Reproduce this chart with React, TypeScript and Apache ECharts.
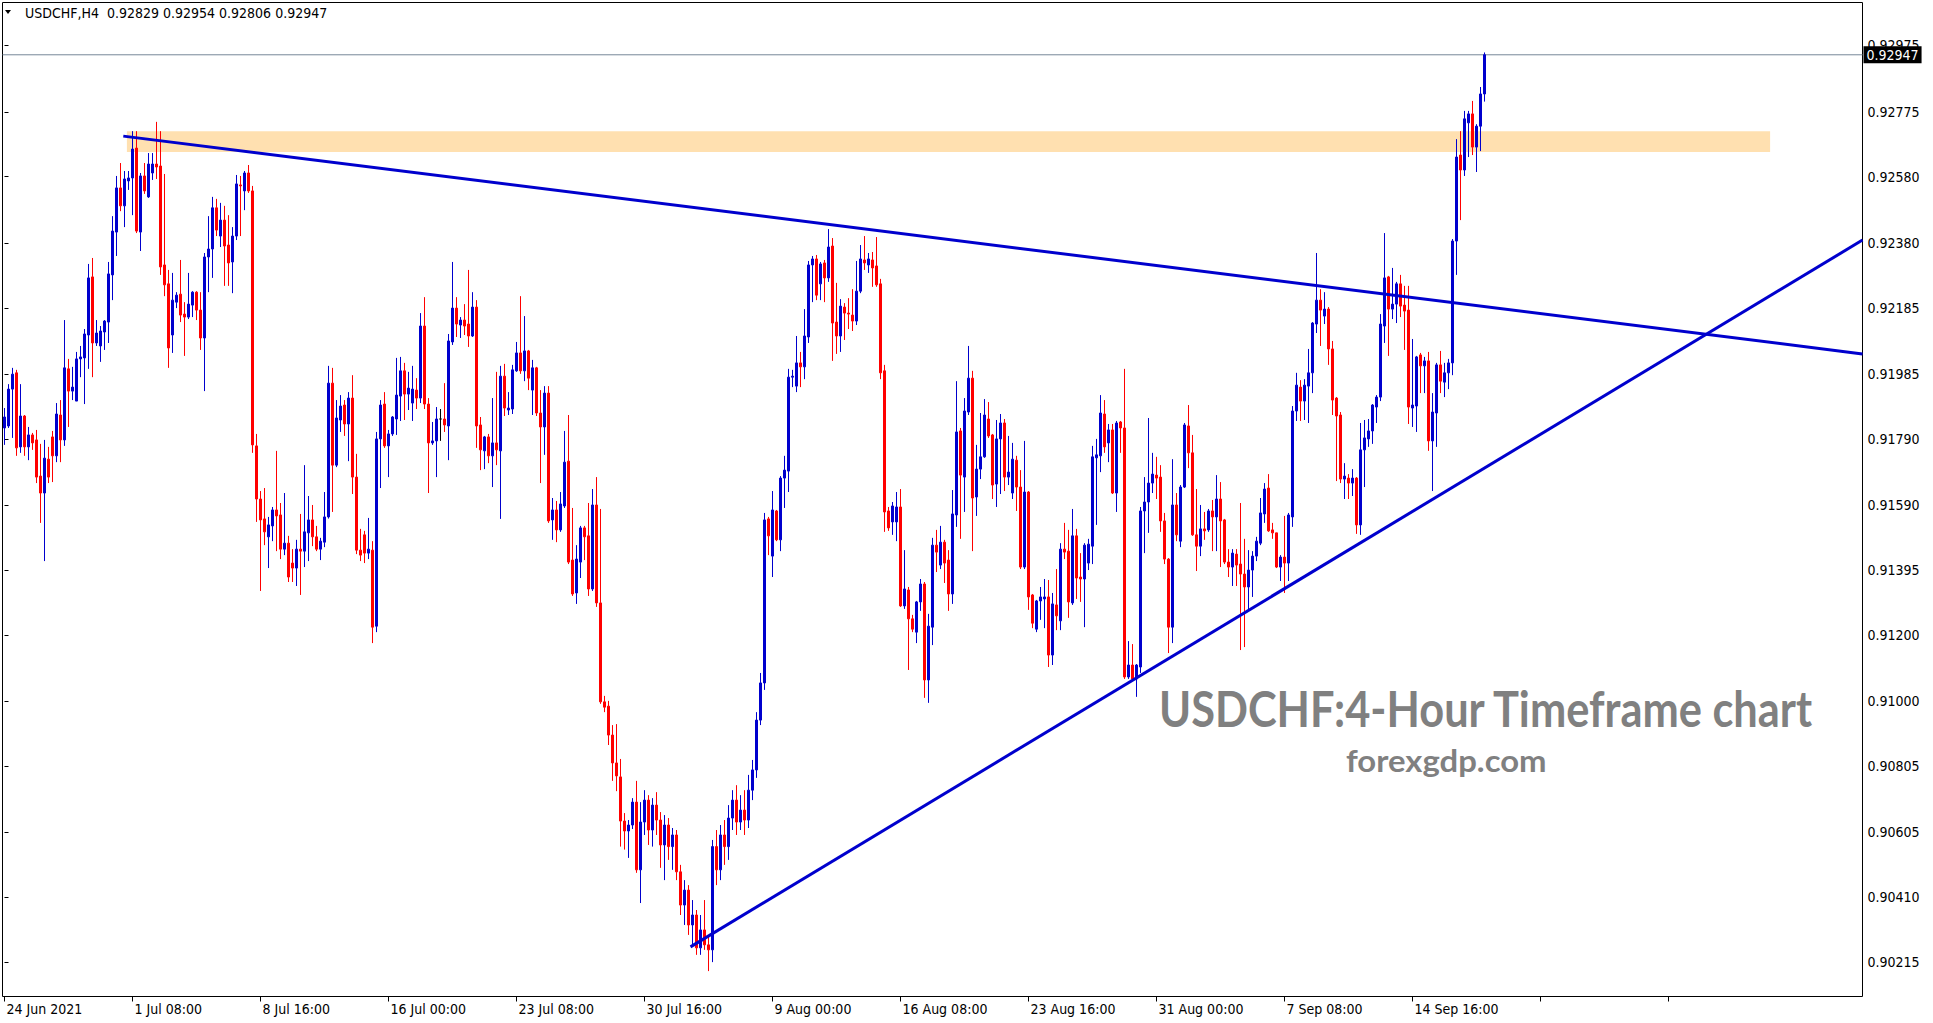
import React, { useEffect, useRef } from 'react';
import * as echarts from 'echarts';

// Each bar: [open, high, low, close]  (USDCHF, H4)
const juneBars: number[][] = [
  [0.91823, 0.91883, 0.91772, 0.91856], [0.91829, 0.91955, 0.91823, 0.91940], [0.91940, 0.92004, 0.91793, 0.91985],
  [0.91989, 0.91998, 0.91739, 0.91763], [0.91766, 0.91955, 0.91748, 0.91859], [0.91859, 0.91862, 0.91739, 0.91766],
  [0.91766, 0.91826, 0.91726, 0.91802], [0.91802, 0.91808, 0.91757, 0.91778], [0.91787, 0.91817, 0.91657, 0.91675],
  [0.91678, 0.91775, 0.91537, 0.91627], [0.91627, 0.91787, 0.91422, 0.91732], [0.91729, 0.91766, 0.91657, 0.91675],
  [0.91796, 0.91814, 0.91660, 0.91739], [0.91739, 0.91898, 0.91720, 0.91865], [0.91862, 0.91907, 0.91720, 0.91787],
  [0.91787, 0.92148, 0.91769, 0.92004], [0.92001, 0.92031, 0.91826, 0.91934], [0.91934, 0.92007, 0.91907, 0.91946],
  [0.91904, 0.92052, 0.91904, 0.92031], [0.92031, 0.92070, 0.91976, 0.92037], [0.92034, 0.92121, 0.91895, 0.92106],
  [0.92103, 0.92317, 0.92001, 0.92275], [0.92278, 0.92335, 0.91976, 0.92079], [0.92079, 0.92148, 0.92070, 0.92109],
  [0.92070, 0.92130, 0.92022, 0.92115], [0.92112, 0.92148, 0.92058, 0.92145], [0.92142, 0.92323, 0.92079, 0.92287],
  [0.92284, 0.92461, 0.92208, 0.92416], [0.92413, 0.92582, 0.92341, 0.92546], [0.92546, 0.92621, 0.92476, 0.92492],
];

const julyBars: number[][] = [
  [0.92492, 0.92597, 0.92428, 0.92573], [0.92567, 0.92597, 0.92540, 0.92576], [0.92576, 0.92717, 0.92464, 0.92663],
  [0.92666, 0.92717, 0.92410, 0.92416], [0.92413, 0.92591, 0.92356, 0.92582], [0.92582, 0.92621, 0.92528, 0.92537],
  [0.92519, 0.92651, 0.92516, 0.92618], [0.92591, 0.92651, 0.92570, 0.92618], [0.92618, 0.92745, 0.92573, 0.92609],
  [0.92612, 0.92717, 0.92284, 0.92308], [0.92314, 0.92588, 0.92220, 0.92254], [0.92257, 0.92299, 0.92004, 0.92064],
  [0.92103, 0.92290, 0.92049, 0.92208], [0.92202, 0.92232, 0.92184, 0.92223], [0.92226, 0.92329, 0.92142, 0.92163],
  [0.92166, 0.92202, 0.92040, 0.92157], [0.92157, 0.92290, 0.92151, 0.92196], [0.92193, 0.92235, 0.92157, 0.92232],
  [0.92232, 0.92235, 0.92148, 0.92178], [0.92178, 0.92232, 0.92058, 0.92094], [0.92094, 0.92350, 0.91934, 0.92338],
  [0.92338, 0.92461, 0.92232, 0.92362], [0.92362, 0.92519, 0.92275, 0.92486], [0.92486, 0.92513, 0.92401, 0.92419],
  [0.92401, 0.92501, 0.92368, 0.92449], [0.92449, 0.92492, 0.92251, 0.92371], [0.92374, 0.92464, 0.92251, 0.92320],
  [0.92323, 0.92428, 0.92229, 0.92401], [0.92401, 0.92585, 0.92389, 0.92558], [0.92555, 0.92582, 0.92401, 0.92552],
  [0.92537, 0.92597, 0.92479, 0.92591], [0.92591, 0.92615, 0.92531, 0.92537], [0.92537, 0.92552, 0.91748, 0.91772],
  [0.91769, 0.91805, 0.91540, 0.91609], [0.91609, 0.91633, 0.91332, 0.91546], [0.91549, 0.91642, 0.91470, 0.91510],
  [0.91495, 0.91555, 0.91401, 0.91531], [0.91528, 0.91585, 0.91482, 0.91576], [0.91576, 0.91754, 0.91452, 0.91558],
  [0.91561, 0.91597, 0.91428, 0.91458], [0.91458, 0.91627, 0.91440, 0.91476], [0.91476, 0.91498, 0.91359, 0.91374],
  [0.91416, 0.91458, 0.91359, 0.91401], [0.91401, 0.91486, 0.91347, 0.91458], [0.91458, 0.91564, 0.91320, 0.91452],
  [0.91452, 0.91711, 0.91404, 0.91510], [0.91507, 0.91618, 0.91422, 0.91546], [0.91546, 0.91591, 0.91467, 0.91495],
  [0.91495, 0.91528, 0.91452, 0.91458], [0.91458, 0.91492, 0.91425, 0.91482], [0.91479, 0.91630, 0.91464, 0.91555],
  [0.91555, 0.92010, 0.91550, 0.91958], [0.91958, 0.92004, 0.91570, 0.91711], [0.91711, 0.91907, 0.91705, 0.91853],
  [0.91847, 0.91922, 0.91811, 0.91889], [0.91892, 0.91907, 0.91799, 0.91835], [0.91835, 0.91931, 0.91723, 0.91913],
  [0.91913, 0.91982, 0.91624, 0.91675], [0.91675, 0.91745, 0.91443, 0.91455], [0.91455, 0.91519, 0.91422, 0.91440],
  [0.91501, 0.91513, 0.91416, 0.91446], [0.91446, 0.91552, 0.91428, 0.91458], [0.91455, 0.91482, 0.91175, 0.91223],
  [0.91226, 0.91811, 0.91208, 0.91790], [0.91790, 0.91907, 0.91642, 0.91892], [0.91895, 0.91931, 0.91763, 0.91769],
  [0.91769, 0.91817, 0.91675, 0.91805], [0.91805, 0.91859, 0.91799, 0.91856], [0.91850, 0.92034, 0.91802, 0.91922],
  [0.91919, 0.92037, 0.91844, 0.91995], [0.91995, 0.92019, 0.91847, 0.91925], [0.91925, 0.91992, 0.91877, 0.91943],
  [0.91898, 0.92010, 0.91844, 0.91940], [0.91937, 0.91973, 0.91880, 0.91913], [0.91913, 0.92169, 0.91898, 0.92130],
  [0.92130, 0.92217, 0.91880, 0.91895], [0.91895, 0.91913, 0.91627, 0.91778], [0.91778, 0.91841, 0.91772, 0.91784],
  [0.91784, 0.91886, 0.91675, 0.91850], [0.91850, 0.91880, 0.91784, 0.91850], [0.91850, 0.91958, 0.91811, 0.91832],
  [0.91829, 0.92106, 0.91726, 0.92085], [0.92082, 0.92323, 0.92073, 0.92184], [0.92184, 0.92217, 0.92097, 0.92136],
  [0.92133, 0.92157, 0.92094, 0.92148], [0.92148, 0.92196, 0.92103, 0.92130], [0.92136, 0.92299, 0.92067, 0.92100],
  [0.92100, 0.92232, 0.92097, 0.92187], [0.92187, 0.92208, 0.91763, 0.91829], [0.91832, 0.91856, 0.91696, 0.91757],
  [0.91754, 0.91799, 0.91699, 0.91796], [0.91796, 0.91805, 0.91717, 0.91739], [0.91739, 0.91913, 0.91645, 0.91778],
  [0.91778, 0.91992, 0.91711, 0.91757], [0.91754, 0.92010, 0.91549, 0.91979], [0.91979, 0.92016, 0.91859, 0.91883],
  [0.91877, 0.91931, 0.91862, 0.91883], [0.91880, 0.92013, 0.91865, 0.91998], [0.91995, 0.92082, 0.91992, 0.92049],
  [0.92049, 0.92220, 0.91986, 0.91995], [0.91995, 0.92160, 0.91964, 0.92055], [0.92055, 0.92058, 0.91937, 0.91973],
  [0.91937, 0.92028, 0.91862, 0.92004], [0.92004, 0.92007, 0.91859, 0.91868], [0.91868, 0.91937, 0.91657, 0.91826],
  [0.91826, 0.91949, 0.91742, 0.91928], [0.91928, 0.91949, 0.91537, 0.91543], [0.91546, 0.91612, 0.91486, 0.91576],
  [0.91576, 0.91603, 0.91479, 0.91516], [0.91516, 0.91630, 0.91510, 0.91594], [0.91588, 0.91814, 0.91582, 0.91720],
  [0.91723, 0.91862, 0.91413, 0.91419], [0.91425, 0.91582, 0.91317, 0.91323], [0.91326, 0.91470, 0.91293, 0.91428],
  [0.91419, 0.91528, 0.91371, 0.91522], [0.91522, 0.91528, 0.91425, 0.91495], [0.91498, 0.91597, 0.91317, 0.91338],
  [0.91338, 0.91639, 0.91332, 0.91591], [0.91591, 0.91675, 0.91284, 0.91296], [0.91296, 0.91579, 0.90992, 0.90998],
  [0.90998, 0.91016, 0.90967, 0.90982], [0.90985, 0.91001, 0.90868, 0.90898], [0.90898, 0.90928, 0.90760, 0.90814],
  [0.90814, 0.90931, 0.90729, 0.90775], [0.90772, 0.90826, 0.90562, 0.90639], [0.90639, 0.90663, 0.90553, 0.90609],
  [0.90609, 0.90642, 0.90528, 0.90627], [0.90627, 0.90708, 0.90615, 0.90696], [0.90696, 0.90760, 0.90483, 0.90492],
  [0.90492, 0.90696, 0.90392, 0.90636], [0.90636, 0.90732, 0.90597, 0.90702], [0.90702, 0.90717, 0.90567, 0.90612],
];

const augustBars: number[][] = [
  [0.90612, 0.90708, 0.90562, 0.90687], [0.90687, 0.90726, 0.90597, 0.90642], [0.90642, 0.90666, 0.90498, 0.90567],
  [0.90567, 0.90657, 0.90461, 0.90627], [0.90627, 0.90648, 0.90522, 0.90562], [0.90562, 0.90618, 0.90492, 0.90597],
  [0.90597, 0.90612, 0.90461, 0.90486], [0.90486, 0.90507, 0.90356, 0.90386], [0.90386, 0.90461, 0.90326, 0.90431],
  [0.90431, 0.90446, 0.90296, 0.90326], [0.90326, 0.90401, 0.90266, 0.90356], [0.90356, 0.90371, 0.90236, 0.90257],
  [0.90257, 0.90356, 0.90236, 0.90311], [0.90311, 0.90401, 0.90251, 0.90266], [0.90266, 0.90296, 0.90187, 0.90251],
  [0.90251, 0.90582, 0.90214, 0.90562], [0.90562, 0.90612, 0.90446, 0.90492], [0.90492, 0.90627, 0.90461, 0.90597],
  [0.90597, 0.90642, 0.90507, 0.90562], [0.90562, 0.90687, 0.90522, 0.90648], [0.90648, 0.90732, 0.90612, 0.90702],
  [0.90702, 0.90747, 0.90597, 0.90636], [0.90636, 0.90717, 0.90612, 0.90672], [0.90672, 0.90732, 0.90597, 0.90642],
  [0.90642, 0.90778, 0.90618, 0.90732], [0.90732, 0.90823, 0.90702, 0.90793], [0.90793, 0.90967, 0.90769, 0.90943],
  [0.90943, 0.91085, 0.90928, 0.91055], [0.91055, 0.91567, 0.91034, 0.91546], [0.91549, 0.91555, 0.91440, 0.91498],
  [0.91437, 0.91633, 0.91374, 0.91576], [0.91573, 0.91576, 0.91482, 0.91486], [0.91486, 0.91678, 0.91452, 0.91672],
  [0.91672, 0.91739, 0.91582, 0.91696], [0.91693, 0.92001, 0.91630, 0.91976], [0.91976, 0.91998, 0.91946, 0.91979],
  [0.91949, 0.92100, 0.91931, 0.92019], [0.92019, 0.92052, 0.91946, 0.92007], [0.92007, 0.92181, 0.91970, 0.92100],
  [0.92097, 0.92326, 0.92079, 0.92314], [0.92314, 0.92341, 0.92202, 0.92332], [0.92332, 0.92344, 0.92208, 0.92223],
  [0.92257, 0.92323, 0.92208, 0.92317], [0.92320, 0.92329, 0.92202, 0.92275], [0.92275, 0.92422, 0.92263, 0.92368],
  [0.92371, 0.92395, 0.92025, 0.92139], [0.92142, 0.92260, 0.92046, 0.92100], [0.92100, 0.92211, 0.92052, 0.92190],
  [0.92187, 0.92199, 0.92088, 0.92169], [0.92169, 0.92214, 0.92121, 0.92166], [0.92163, 0.92241, 0.92115, 0.92145],
  [0.92145, 0.92326, 0.92133, 0.92235], [0.92235, 0.92374, 0.92229, 0.92332], [0.92329, 0.92401, 0.92299, 0.92320],
  [0.92314, 0.92350, 0.92290, 0.92332], [0.92329, 0.92353, 0.92248, 0.92305], [0.92311, 0.92398, 0.92248, 0.92254],
  [0.92257, 0.92272, 0.91970, 0.91989], [0.91995, 0.92013, 0.91510, 0.91570], [0.91573, 0.91585, 0.91513, 0.91522],
  [0.91540, 0.91600, 0.91501, 0.91588], [0.91540, 0.91630, 0.91482, 0.91585], [0.91585, 0.91639, 0.91284, 0.91287],
  [0.91287, 0.91455, 0.91278, 0.91338], [0.91335, 0.91344, 0.91094, 0.91248], [0.91248, 0.91260, 0.91208, 0.91217],
  [0.91208, 0.91302, 0.91175, 0.91299], [0.91299, 0.91368, 0.91272, 0.91353], [0.91353, 0.91359, 0.91010, 0.91064],
  [0.91064, 0.91263, 0.90995, 0.91226], [0.91223, 0.91492, 0.91169, 0.91470], [0.91470, 0.91516, 0.91389, 0.91449],
  [0.91410, 0.91528, 0.91398, 0.91479], [0.91479, 0.91486, 0.91356, 0.91416], [0.91425, 0.91455, 0.91272, 0.91323],
  [0.91323, 0.91636, 0.91293, 0.91564], [0.91561, 0.91964, 0.91525, 0.91811], [0.91814, 0.91823, 0.91489, 0.91681],
  [0.91675, 0.91913, 0.91570, 0.91874], [0.91871, 0.92070, 0.91862, 0.91973], [0.91973, 0.91995, 0.91452, 0.91612],
  [0.91615, 0.91772, 0.91558, 0.91699], [0.91699, 0.91868, 0.91669, 0.91736], [0.91736, 0.91910, 0.91733, 0.91862],
  [0.91850, 0.91901, 0.91793, 0.91799], [0.91802, 0.91805, 0.91609, 0.91651], [0.91654, 0.91847, 0.91585, 0.91790],
  [0.91790, 0.91865, 0.91624, 0.91838], [0.91838, 0.91850, 0.91633, 0.91675], [0.91675, 0.91799, 0.91651, 0.91690],
  [0.91627, 0.91778, 0.91609, 0.91729], [0.91726, 0.91739, 0.91573, 0.91645], [0.91645, 0.91696, 0.91398, 0.91404],
  [0.91404, 0.91784, 0.91398, 0.91630], [0.91630, 0.91633, 0.91275, 0.91314], [0.91320, 0.91323, 0.91220, 0.91235],
  [0.91217, 0.91305, 0.91208, 0.91302], [0.91302, 0.91344, 0.91245, 0.91314], [0.91308, 0.91368, 0.91220, 0.91314],
  [0.91314, 0.91365, 0.91103, 0.91139], [0.91139, 0.91326, 0.91109, 0.91293], [0.91290, 0.91398, 0.91214, 0.91257],
  [0.91242, 0.91476, 0.91214, 0.91458], [0.91458, 0.91537, 0.91428, 0.91449], [0.91452, 0.91516, 0.91251, 0.91299],
  [0.91296, 0.91579, 0.91290, 0.91498], [0.91498, 0.91519, 0.91308, 0.91371], [0.91374, 0.91446, 0.91299, 0.91368],
  [0.91368, 0.91476, 0.91223, 0.91470], [0.91416, 0.91489, 0.91395, 0.91473], [0.91467, 0.91769, 0.91413, 0.91736],
  [0.91733, 0.91790, 0.91531, 0.91742], [0.91739, 0.91922, 0.91690, 0.91868], [0.91865, 0.91907, 0.91748, 0.91766],
  [0.91778, 0.91835, 0.91720, 0.91817], [0.91817, 0.91835, 0.91624, 0.91627], [0.91627, 0.91844, 0.91570, 0.91838],
  [0.91841, 0.91844, 0.91748, 0.91823], [0.91823, 0.92001, 0.91067, 0.91073], [0.91073, 0.91181, 0.91067, 0.91109],
  [0.91109, 0.91172, 0.91064, 0.91067], [0.91067, 0.91112, 0.91013, 0.91109], [0.91103, 0.91585, 0.91085, 0.91573],
  [0.91573, 0.91675, 0.91446, 0.91600], [0.91600, 0.91853, 0.91507, 0.91657], [0.91657, 0.91748, 0.91627, 0.91684],
  [0.91681, 0.91736, 0.91609, 0.91672], [0.91675, 0.91711, 0.91510, 0.91543], [0.91543, 0.91567, 0.91413, 0.91428],
  [0.91428, 0.91431, 0.91145, 0.91223], [0.91223, 0.91729, 0.91175, 0.91591], [0.91591, 0.91627, 0.91482, 0.91501],
];

const septemberBars: number[][] = [
  [0.91482, 0.91651, 0.91464, 0.91645], [0.91645, 0.91838, 0.91642, 0.91832], [0.91829, 0.91892, 0.91702, 0.91748],
  [0.91748, 0.91802, 0.91498, 0.91501], [0.91501, 0.91639, 0.91392, 0.91467], [0.91467, 0.91591, 0.91437, 0.91519],
  [0.91519, 0.91570, 0.91486, 0.91513], [0.91516, 0.91579, 0.91510, 0.91573], [0.91573, 0.91606, 0.91452, 0.91555],
  [0.91555, 0.91681, 0.91452, 0.91609], [0.91609, 0.91660, 0.91404, 0.91543], [0.91546, 0.91549, 0.91413, 0.91419],
  [0.91419, 0.91458, 0.91374, 0.91404], [0.91404, 0.91458, 0.91347, 0.91446], [0.91443, 0.91458, 0.91347, 0.91410],
  [0.91413, 0.91597, 0.91154, 0.91383], [0.91383, 0.91489, 0.91163, 0.91344], [0.91344, 0.91455, 0.91272, 0.91395],
  [0.91395, 0.91452, 0.91314, 0.91437], [0.91437, 0.91495, 0.91422, 0.91482], [0.91476, 0.91612, 0.91470, 0.91567],
  [0.91564, 0.91657, 0.91537, 0.91639], [0.91642, 0.91684, 0.91510, 0.91513], [0.91516, 0.91537, 0.91489, 0.91507],
  [0.91507, 0.91507, 0.91401, 0.91404], [0.91404, 0.91440, 0.91362, 0.91434], [0.91434, 0.91558, 0.91326, 0.91416],
  [0.91416, 0.91567, 0.91362, 0.91561], [0.91555, 0.91889, 0.91525, 0.91874], [0.91874, 0.91989, 0.91844, 0.91952],
  [0.91946, 0.91967, 0.91844, 0.91904], [0.91904, 0.91970, 0.91847, 0.91952], [0.91949, 0.92061, 0.91838, 0.91989],
  [0.91989, 0.92142, 0.91928, 0.92139], [0.92136, 0.92350, 0.92109, 0.92208], [0.92208, 0.92241, 0.92070, 0.92178],
  [0.92160, 0.92232, 0.92136, 0.92181], [0.92181, 0.92187, 0.92013, 0.92061], [0.92061, 0.92085, 0.91862, 0.91907],
  [0.91913, 0.91916, 0.91663, 0.91859], [0.91862, 0.91871, 0.91657, 0.91669], [0.91669, 0.91717, 0.91609, 0.91678],
  [0.91672, 0.91684, 0.91609, 0.91657], [0.91657, 0.91699, 0.91618, 0.91672], [0.91672, 0.91675, 0.91504, 0.91531],
  [0.91531, 0.91838, 0.91501, 0.91757], [0.91757, 0.91847, 0.91645, 0.91793], [0.91790, 0.91850, 0.91766, 0.91814],
  [0.91814, 0.91895, 0.91775, 0.91892], [0.91886, 0.91922, 0.91838, 0.91916], [0.91916, 0.92166, 0.91904, 0.92136],
  [0.92130, 0.92410, 0.92079, 0.92275], [0.92278, 0.92281, 0.92040, 0.92181], [0.92181, 0.92305, 0.92151, 0.92196],
  [0.92196, 0.92263, 0.92139, 0.92257], [0.92257, 0.92284, 0.92157, 0.92190], [0.92193, 0.92251, 0.92058, 0.92175],
  [0.92178, 0.92251, 0.91835, 0.91886], [0.91883, 0.92091, 0.91826, 0.91892], [0.91889, 0.92040, 0.91811, 0.92037],
  [0.92043, 0.92049, 0.91928, 0.92010], [0.92010, 0.92037, 0.91928, 0.92025], [0.92025, 0.92052, 0.91754, 0.91784],
  [0.91784, 0.91928, 0.91633, 0.91871], [0.91868, 0.92019, 0.91766, 0.92013], [0.92013, 0.92055, 0.91928, 0.91964],
  [0.91961, 0.92019, 0.91916, 0.91989], [0.91989, 0.92031, 0.91940, 0.92019], [0.92019, 0.92392, 0.91982, 0.92386],
  [0.92386, 0.92693, 0.92284, 0.92639], [0.92645, 0.92717, 0.92449, 0.92600], [0.92600, 0.92778, 0.92582, 0.92754],
  [0.92742, 0.92778, 0.92639, 0.92769], [0.92769, 0.92808, 0.92645, 0.92669], [0.92669, 0.92738, 0.92594, 0.92732],
  [0.92732, 0.92850, 0.92657, 0.92829], [0.92829, 0.92954, 0.92806, 0.92947],
];

const timeLabels = [
  '24 Jun 2021', '1 Jul 08:00', '8 Jul 16:00', '16 Jul 00:00', '23 Jul 08:00', '30 Jul 16:00',
  '9 Aug 00:00', '16 Aug 08:00', '23 Aug 16:00', '31 Aug 00:00', '7 Sep 08:00', '14 Sep 16:00',
];
const BARS_PER_LABEL = 32;
const TOTAL_SLOTS = 465; // bar slots visible across the chart window

const priceTicks = [
  0.92975, 0.92775, 0.9258, 0.9238, 0.92185, 0.91985, 0.9179, 0.9159,
  0.91395, 0.912, 0.91, 0.90805, 0.90605, 0.9041, 0.90215,
];
const Y_MIN = 0.901105;
const Y_MAX = 0.931045;

const lastPrice = 0.92947;
const headerText = 'USDCHF,H4  0.92829 0.92954 0.92806 0.92947';
const watermarkTitle = 'USDCHF:4-Hour Timeframe chart';
const watermarkSite = 'forexgdp.com';

// resistance zone: [fromBar, toBar], [top, bottom]
const zoneBars = [30.6, 441.4];
const zonePrices = [0.92717, 0.92654];
// trend lines: [barIndex, price]
const upperTrend = [[29.7, 0.92702], [464.5, 0.92046]];
const lowerTrend = [[171.5, 0.9026], [464.5, 0.92389]];
// current price line spans the whole window
const priceLineBars = [-0.5, 464.5];

const BULL = '#0000CD';
const BEAR = '#FF0000';
const AXIS_FONT = "'DejaVu Sans Condensed', 'DejaVu Sans', sans-serif";

export default function App() {
  const ref = useRef<HTMLDivElement>(null);

  useEffect(() => {
    document.body.style.margin = '0';
    document.body.style.overflow = 'hidden';
    if (!ref.current) return;
    const chart = echarts.init(ref.current, undefined, { renderer: 'svg' });

    const bars = [...juneBars, ...julyBars, ...augustBars, ...septemberBars];
    const candleData = bars.map(([o, h, l, c]) => [o, c, l, h]);
    const categories = Array.from({ length: TOTAL_SLOTS }, (_, i) => String(i));

    const option: any = {
      animation: false,
      backgroundColor: '#ffffff',
      tooltip: { show: false },
      grid: {
        left: 2.5, right: 70.5, top: 2.5, bottom: 26.5,
        show: true, borderColor: '#000', borderWidth: 1, backgroundColor: '#fff',
      },
      xAxis: [
        {
          type: 'category',
          data: categories,
          boundaryGap: true,
          axisLine: { show: false },
          axisTick: { show: true, interval: BARS_PER_LABEL - 1, alignWithLabel: true, length: 5, lineStyle: { color: '#000', width: 1 } },
          axisLabel: {
            interval: BARS_PER_LABEL - 1,
            align: 'left',
            margin: 5,
            color: '#000',
            fontSize: 14,
            fontFamily: AXIS_FONT,
            padding: [0, 0, 0, 2],
            showMaxLabel: false,
            hideOverlap: false,
            formatter: (_v: string, idx: number) =>
              idx % BARS_PER_LABEL === 0 ? (timeLabels[idx / BARS_PER_LABEL] ?? '') : '',
          },
          splitLine: { show: false },
        },
        { type: 'value', min: -0.5, max: TOTAL_SLOTS - 0.5, show: false },
      ],
      yAxis: {
        type: 'value',
        position: 'right',
        min: Y_MIN,
        max: Y_MAX,
        axisLine: { show: false },
        axisTick: { show: true, length: 4, customValues: priceTicks, lineStyle: { color: '#000' } },
        axisLabel: {
          customValues: priceTicks,
          formatter: (v: number) => v.toFixed(5),
          margin: 5,
          color: '#000',
          fontSize: 14,
          fontFamily: AXIS_FONT,
        },
        splitLine: { show: false },
      },
      series: [
        {
          type: 'line',
          xAxisIndex: 1,
          data: [],
          silent: true,
          markArea: {
            silent: true,
            itemStyle: { color: '#FFE0B0', opacity: 1 },
            data: [[{ coord: [zoneBars[0], zonePrices[0]] }, { coord: [zoneBars[1], zonePrices[1]] }]],
          },
        },
        {
          type: 'line',
          xAxisIndex: 1,
          data: priceLineBars.map((b) => [b, lastPrice]),
          symbol: 'none',
          silent: true,
          z: 1,
          lineStyle: { color: '#778899', width: 1 },
          endLabel: {
            show: true,
            distance: 1,
            formatter: () => lastPrice.toFixed(5),
            color: '#fff',
            backgroundColor: '#000',
            padding: [2, 3, 1, 3],
            fontSize: 14,
            fontFamily: AXIS_FONT,
          },
        },
        {
          type: 'candlestick',
          data: candleData,
          barWidth: 2,
          silent: true,
          progressive: 0,
          itemStyle: {
            color: BULL, color0: BEAR, borderColor: BULL, borderColor0: BEAR,
            borderColorDoji: '#000', borderWidth: 1,
          },
        },
        {
          type: 'line', xAxisIndex: 1, data: upperTrend, symbol: 'none', silent: true, z: 4,
          lineStyle: { color: BULL, width: 3 },
        },
        {
          type: 'line', xAxisIndex: 1, data: lowerTrend, symbol: 'none', silent: true, z: 4,
          lineStyle: { color: BULL, width: 3 },
        },
      ],
      graphic: [
        { type: 'polygon', shape: { points: [[5, 10], [11, 10], [8, 14]] }, style: { fill: '#000' }, silent: true },
        {
          type: 'text', x: 25, y: 13, silent: true,
          style: { text: headerText, fill: '#000', fontSize: 14, fontFamily: AXIS_FONT, verticalAlign: 'middle' },
        },
        {
          type: 'text', x: 1159, y: 708, scaleX: 0.885, silent: true,
          style: { text: watermarkTitle, fill: '#808080', fontSize: 49, fontWeight: 'bold', fontFamily: 'Lato, sans-serif', verticalAlign: 'middle' },
        },
        {
          type: 'text', x: 1346, y: 760, scaleX: 1.06, silent: true,
          style: { text: watermarkSite, fill: '#808080', fontSize: 31, fontWeight: 'bold', fontFamily: 'Lato, sans-serif', verticalAlign: 'middle' },
        },
      ],
    };

    chart.setOption(option);
    return () => chart.dispose();
  }, []);

  return <div ref={ref} style={{ width: 1933, height: 1023 }} />;
}
